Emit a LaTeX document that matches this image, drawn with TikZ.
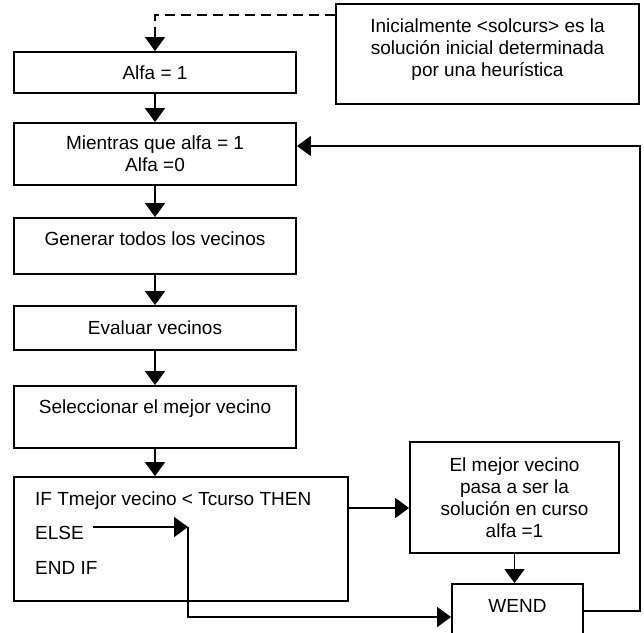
\documentclass[tikz,border=0pt]{standalone}
\usepackage{fontspec}
\setmainfont{Liberation Sans}
\usetikzlibrary{arrows.meta}
\begin{document}
\begin{tikzpicture}[x=1pt,y=-1pt,
  fnt/.style={font=\fontsize{19}{22}\selectfont},
  box/.style={draw, line width=1.9pt, inner sep=0pt, align=center, fnt},
  txt/.style={inner sep=0pt, align=center, fnt, text height=14pt, text depth=4pt},
  mtxt/.style={inner sep=0pt, align=center, fnt},
  arr/.style={line width=1.9pt, -{Triangle[length=14pt,width=20pt]}},
  dashln/.style={line width=1.9pt, dash pattern=on 10pt off 6pt}
  ]
\useasboundingbox (0,0) rectangle (644,632);
% boxes
\node[box, minimum width=303pt, minimum height=100pt] (note) at (487.5,54) {};
\node[mtxt] (notet) at (487.5,50) {Inicialmente <solcurs> es la\\solución inicial determinada\\por una heurística};
\node[box, minimum width=282pt, minimum height=41pt] (alfa) at (155,72.5) {Alfa = 1};
\node[box, minimum width=282pt, minimum height=62pt] (mient) at (155,154) {\fontsize{19}{20}\selectfont Mientras que alfa = 1\\\fontsize{19}{20}\selectfont Alfa =0};
\node[box, minimum width=282pt, minimum height=56pt] (gen) at (155,246) {};
\node[txt] (gent) at (155,240) {Generar todos los vecinos};
\node[box, minimum width=282pt, minimum height=44pt] (eval) at (155,328) {Evaluar vecinos};
\node[box, minimum width=282pt, minimum height=62pt] (sel) at (155,417) {};
\node[txt] (selt) at (155,408) {Seleccionar el mejor vecino};
\node[box, minimum width=334pt, minimum height=124pt] (ifb) at (181,539) {};
\node[txt, anchor=west] (ifl1) at (35,500) {IF Tmejor vecino < Tcurso THEN};
\node[txt, anchor=west] (ifl2) at (35,534) {ELSE};
\node[txt, anchor=west] (ifl3) at (35,569) {END IF};
\node[box, minimum width=209pt, minimum height=111pt] (mejor) at (514.5,497.5) {El mejor vecino\\pasa a ser la\\solución en curso\\alfa =1};
\node[box, minimum width=131pt, minimum height=56pt] (wend) at (517.5,612) {};
\node[txt] (wendt) at (517.5,607) {WEND};
% coordinates
\coordinate (elsestart) at (93,527);
\coordinate (elsetip) at (188,527);
\coordinate (loopB) at (640,146);
% connectors
\draw[dashln, -{Triangle[length=14pt,width=20pt]}] ([yshift=39pt]note.west) -| (alfa.north);
\draw[arr] (alfa.south) -- (mient.north);
\draw[arr] (mient.south) -- (gen.north);
\draw[arr] (gen.south) -- (eval.north);
\draw[arr] (eval.south) -- (sel.north);
\draw[arr] (sel.south) -- (sel.south |- ifb.north);
\draw[arr] ([yshift=31pt]ifb.east) -- ([yshift=31pt]ifb.east -| mejor.west);
\draw[arr] (elsestart) -- (elsetip);
\draw[arr] (elsetip) |- ([yshift=-5pt]wend.west);
\draw[arr] (mejor.south) -- (mejor.south |- wend.north);
\draw[arr] ([yshift=1pt]wend.east) -| (loopB) -- ([yshift=8pt]mient.east);
\end{tikzpicture}
\end{document}
